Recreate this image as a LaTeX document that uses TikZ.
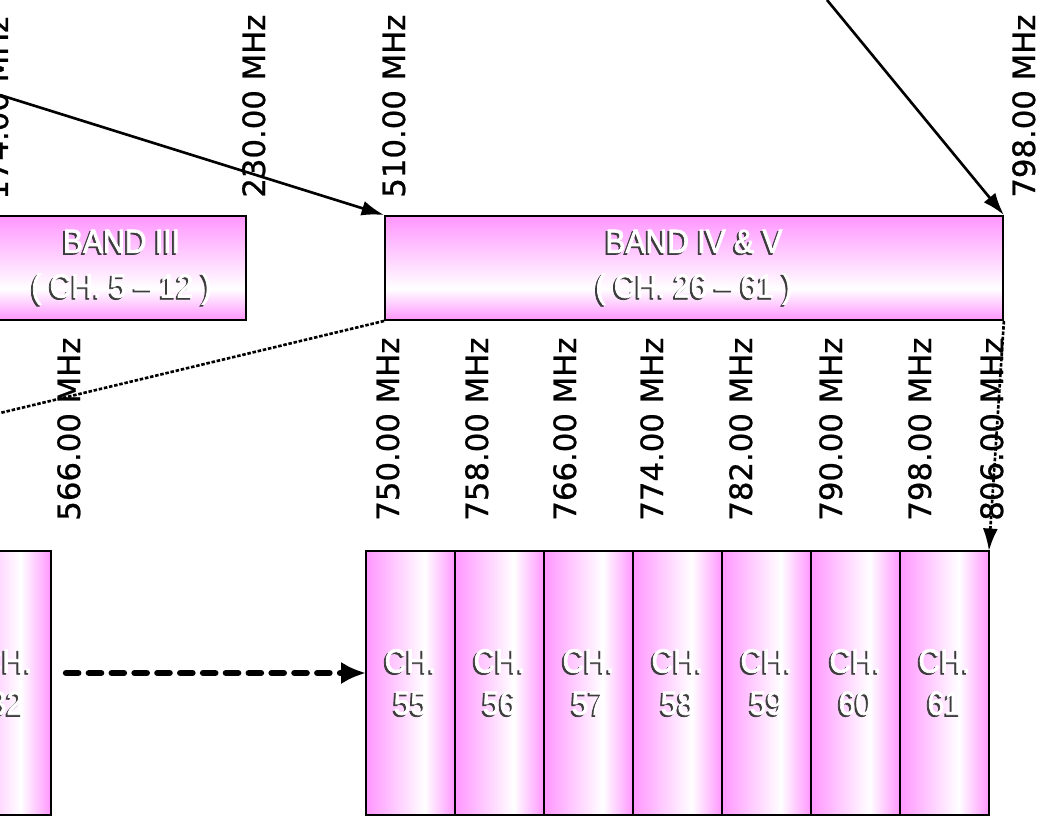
\documentclass[tikz,border=0pt]{standalone}
\usepackage{fontspec}
\usepackage{xcolor}
\usepackage{tikz}
\usetikzlibrary{arrows.meta,positioning}
\newfontfamily\boitefont[FakeStretch=0.9, FakeBold=2.2]{Liberation Sans}
\newfontfamily\freqfont[FakeBold=0.8]{DejaVu Sans}
\definecolor{roseC}{RGB}{255,150,255}
\definecolor{ombreC}{RGB}{60,60,60}
\pgfdeclareverticalshading{bandeshade}{100bp}{color(0bp)=(roseC); color(25bp)=(roseC); color(40bp)=(white); color(75bp)=(roseC); color(100bp)=(roseC)}
\pgfdeclarehorizontalshading{canalshade}{100bp}{color(0bp)=(roseC); color(25bp)=(roseC); color(58bp)=(white); color(75bp)=(roseC); color(100bp)=(roseC)}
\newcommand{\relief}[1]{\makebox[0pt][l]{\kern-1.1pt\raisebox{-1pt}{\textcolor{ombreC}{#1}}}\textcolor{white}{#1}}
\tikzset{
  bande/.style={rectangle, draw=black, line width=1.1pt, shading=bandeshade, align=center,
                font=\boitefont\fontsize{19}{25.5}\selectfont, minimum height=2.08cm, inner sep=0pt},
  canal/.style={rectangle, draw=black, line width=1.1pt, shading=canalshade, align=center,
                font=\boitefont\fontsize{19}{24}\selectfont, minimum width=1.78cm,
                minimum height=5.28cm, inner sep=0pt, outer sep=0pt},
  freq/.style={rotate=90, anchor=base west, inner sep=0pt, font=\freqfont\fontsize{17.5}{20}\selectfont},
  arr/.style={-{Latex[length=4.5mm,width=3mm]}, line width=1.5pt},
  pointille/.style={line width=1.5pt, dash pattern=on 2pt off 1pt},
}

\begin{document}
\begin{tikzpicture}[x=0.02cm, y=-0.02cm]
  \useasboundingbox (0,0) rectangle (1040,818);
  \clip (0,0) rectangle (1040,818);
  % bandes
  \node[bande, minimum width=4.98cm] (b3) at (121.5,268) {\relief{BAND III}\\\relief{( CH. 5 – 12 )}};
  \node[bande, minimum width=12.36cm] (b45) at (694,268) {\relief{BAND IV \& V}\\\relief{( CH. 26 – 61 )}};
  % canaux
  \node[canal] (c32) at (6.5,683) {\relief{CH.}\\\relief{32}};
  \node[canal] (c55) at (410.5,683) {\relief{CH.}\\\relief{55}};
  \node[canal, right=0pt of c55] (c56) {\relief{CH.}\\\relief{56}};
  \node[canal, right=0pt of c56] (c57) {\relief{CH.}\\\relief{57}};
  \node[canal, right=0pt of c57] (c58) {\relief{CH.}\\\relief{58}};
  \node[canal, right=0pt of c58] (c59) {\relief{CH.}\\\relief{59}};
  \node[canal, right=0pt of c59] (c60) {\relief{CH.}\\\relief{60}};
  \node[canal, right=0pt of c60] (c61) {\relief{CH.}\\\relief{61}};
  % frequences
  \node[freq] (f174) at (8,200) {174.00 MHz};
  \node[freq] (f230) at (265,198) {230.00 MHz};
  \node[freq] (f510) at (405,198) {510.00 MHz};
  \node[freq] (f798h) at (1035,198) {798.00 MHz};
  \node[freq] (f566) at (80,521) {566.00 MHz};
  \node[freq] (f750) at (399,521) {750.00 MHz};
  \node[freq] (f758) at (488,521) {758.00 MHz};
  \node[freq] (f766) at (576,521) {766.00 MHz};
  \node[freq] (f774) at (663,521) {774.00 MHz};
  \node[freq] (f782) at (752,521) {782.00 MHz};
  \node[freq] (f790) at (842,521) {790.00 MHz};
  \node[freq] (f798) at (931,521) {798.00 MHz};
  \node[freq] (f806) at (1003,521) {806.00 MHz};
  % fleches
  \coordinate (g) at (0,95);
  \coordinate (h) at (827,0);
  \coordinate (d) at (0,413);
  \draw[arr] (g) -- (b45.north west);
  \draw[arr] (h) -- (b45.north east);
  \draw[pointille] (b45.south west) -- (d);
  \draw[pointille, -{Latex[length=4.5mm,width=3mm]}] (b45.south east) -- (c61.north east);
  \draw[line width=3.6pt, line cap=round, dash pattern=on 7pt off 6pt, -{Latex[length=5mm,width=4.5mm]}, shorten <=0.3cm]
    ([yshift=0.2cm]c32.east) -- ([yshift=0.2cm]c55.west);
\end{tikzpicture}
\end{document}
